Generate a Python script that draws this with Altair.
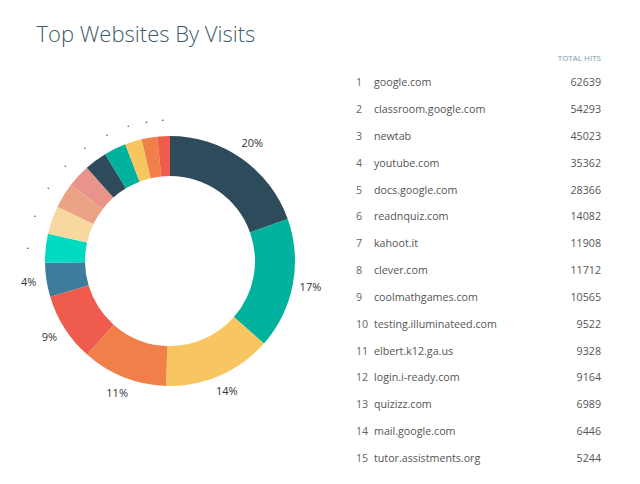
import altair as alt
import pandas as pd

# ---- data ----
ranks = list(range(1, 16))
sites = [
    "google.com", "classroom.google.com", "newtab", "youtube.com", "docs.google.com",
    "readnquiz.com", "kahoot.it", "clever.com", "coolmathgames.com",
    "testing.illuminateed.com", "elbert.k12.ga.us", "login.i-ready.com",
    "quizizz.com", "mail.google.com", "tutor.assistments.org",
]
hits = [62639, 54293, 45023, 35362, 28366, 14082, 11908, 11712, 10565,
        9522, 9328, 9164, 6989, 6446, 5244]
pct_labels = ["20%", "17%", "14%", "11%", "9%", "4%",
              ".", ".", ".", ".", ".", ".", ".", ".", "."]
slice_colors = ["#2d4b5a", "#00b19d", "#f8c660", "#f07f4a", "#ef5b4d",
                "#3d7c9a", "#00dac1", "#f6d8a0", "#eca385", "#e9948b",
                "#2d4b5a", "#00b19d", "#f8c660", "#f07f4a", "#ef5b4d"]
title_text = "Top Websites By Visits"
header_text = "TOTAL HITS"

df = pd.DataFrame({"rank": ranks, "site": sites, "hits": hits, "label": pct_labels})

FONT = "Open Sans"
CX, CY = 162, 253

base = alt.Chart(df)

arcs = base.mark_arc(outerRadius=125, innerRadius=85).encode(
    theta=alt.Theta("hits:Q", stack=True),
    order=alt.Order("rank:Q", sort="ascending"),
    color=alt.Color("site:N", scale=alt.Scale(domain=sites, range=slice_colors), legend=None),
    x=alt.value(CX),
    y=alt.value(CY),
)

arc_labels = base.mark_text(
    radius=143, font=FONT, fontSize=11, color="#333333", baseline="middle", align="center"
).encode(
    theta=alt.Theta("hits:Q", stack=True),
    order=alt.Order("rank:Q", sort="ascending"),
    text="label:N",
    x=alt.value(CX),
    y=alt.value(CY),
)

title = alt.Chart(pd.DataFrame({"t": [title_text]})).mark_text(
    font=FONT, fontSize=22, fontWeight=300, color="#3e5a6b", align="left", baseline="alphabetic"
).encode(text="t:N", x=alt.value(28.5), y=alt.value(33.5))

header = alt.Chart(pd.DataFrame({"t": [header_text]})).mark_text(
    font=FONT, fontSize=8, color="#7b97a6", align="right", baseline="middle"
).encode(text="t:N", x=alt.value(593), y=alt.value(51))

row_y = alt.Y("rank:O", scale=alt.Scale(type="point", range=[75.3, 451], padding=0), axis=None)

rank_col = base.mark_text(
    font=FONT, fontSize=10.7, color="#666666", align="left", baseline="middle"
).encode(text="rank:N", x=alt.value(348), y=row_y)

site_col = base.mark_text(
    font=FONT, fontSize=10.7, color="#555555", align="left", baseline="middle"
).encode(text="site:N", x=alt.value(366), y=row_y)

hits_col = base.mark_text(
    font=FONT, fontSize=10.7, color="#555555", align="right", baseline="middle"
).encode(text="hits:Q", x=alt.value(593), y=row_y)

chart = alt.layer(
    arcs, arc_labels, title, header, rank_col, site_col, hits_col
).properties(
    width=624, height=460, padding=0, autosize=alt.AutoSizeParams(type="none"), background="white"
).configure_view(stroke=None)

chart.save("out.html", embed_options={"renderer": "svg", "actions": False})
